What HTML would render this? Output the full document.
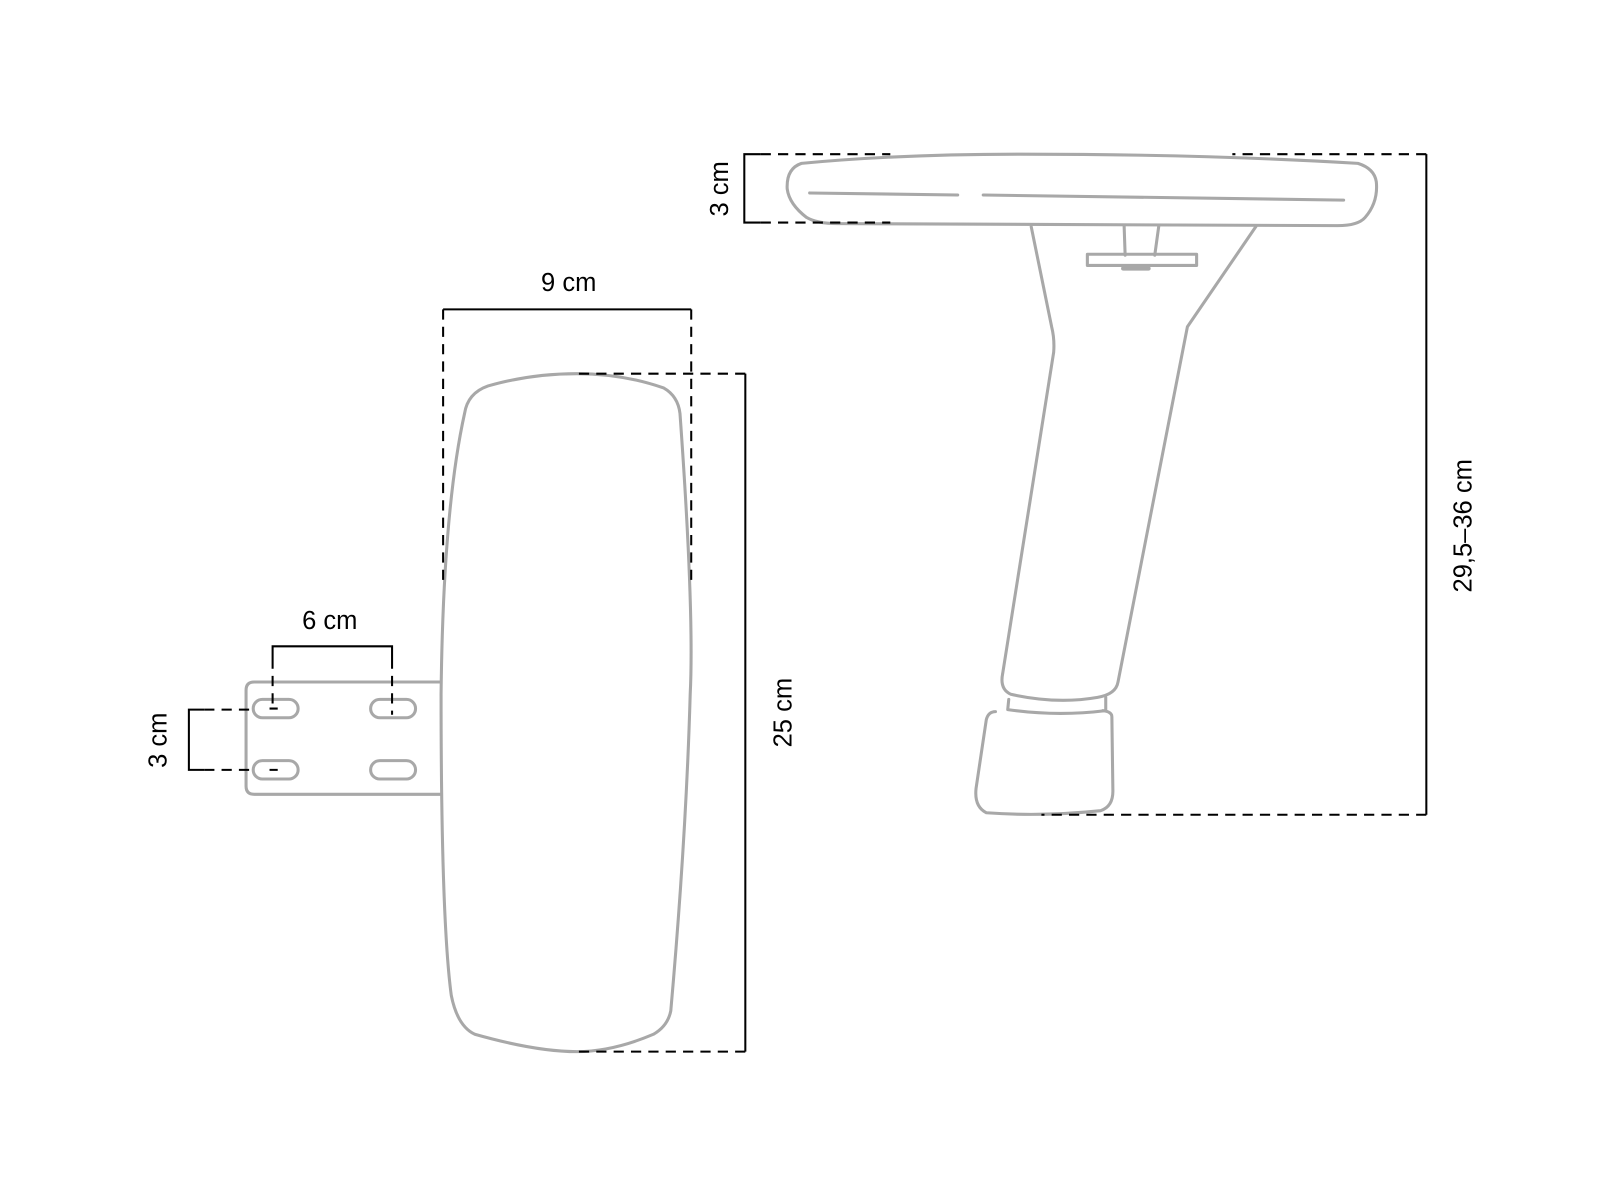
<!DOCTYPE html>
<html><head><meta charset="utf-8"><style>html,body{margin:0;padding:0;background:#fff}svg{display:block}</style></head>
<body>
<svg width="1601" height="1201" viewBox="0 0 1601 1201" xmlns="http://www.w3.org/2000/svg" font-family="Liberation Sans, sans-serif" font-size="25">
<g transform="scale(1.021)">
<g fill="none" stroke="#a8a8a8" stroke-width="3" stroke-linejoin="round" stroke-linecap="round">
<path d="M455,405 Q458,385 478,378 Q520,366 565,366 Q610,366 650,380 Q664,388 666,405 Q680,600 676,680 Q672,820 657,990 Q654,1005 640,1013 Q600,1030 565,1030 Q525,1030 465,1013 Q448,1005 442,975 Q432,900 432,680 Q434,500 455,405 Z"/>
<path d="M431,668 L249,668 Q241,668 241,676 L241,770 Q241,778 249,778 L431,778"/>
<rect x="248" y="685" width="44" height="18" rx="9"/>
<rect x="363" y="685" width="44" height="18" rx="9"/>
<rect x="248" y="745" width="44" height="18" rx="9"/>
<rect x="363" y="745" width="44" height="18" rx="9"/>
<path d="M785,160 Q770,165 771,185 Q773,200 790,213 Q800,219 820,219 L1310,221 Q1330,221 1337,213 Q1350,198 1348,178 Q1346,165 1330,160 Q1180,151 1000,151 Q880,151 785,160 Z"/>
<path d="M793,189 L938,191 M963,191 L1316,196"/>
<path d="M1101,221 L1102,250 M1135,221 L1131,250"/>
<rect x="1065" y="249" width="107" height="11"/>
<path d="M1100,263 L1125,263" stroke-width="4"/>
<path d="M1010,222 L1030,320 Q1033,332 1032,345 L982,660 Q979,675 990,680 Q1035,690 1075,683 Q1093,680 1095,668 L1163,320 L1230,222"/>
<path d="M988,685 L987,695 Q1035,702 1083,696 L1083,683"/>
<path d="M975,697 Q968,697 966,705 L956,772 Q954,790 966,796 Q1020,800 1078,794 Q1090,790 1090,775 L1089,702 Q1089,697 1080,696"/>
</g>
<g stroke="#000" stroke-width="2" fill="none">
<path d="M434,303 L677,303"/>
<path d="M434,303 L434,575 M677,303 L677,575" stroke-dasharray="10,7"/>
<path d="M730,366 L730,1030"/>
<path d="M730,366 L563,366 M730,1030 L563,1030" stroke-dasharray="10,7"/>
<path d="M267,645 L267,633 L384,633 L384,645"/>
<path d="M267,645 L267,693 M384,645 L384,700" stroke-dasharray="10,7"/>
<path d="M264,694 L272,694 M264,754 L272,754"/>
<path d="M200,695 L185,695 L185,754 L200,754"/>
<path d="M200,695 L248,695 M200,754 L248,754" stroke-dasharray="10,7"/>
<path d="M745,151 L729,151 L729,218 L745,218"/>
<path d="M745,151 L872,151 M745,218 L872,218" stroke-dasharray="10,7"/>
<path d="M1397,151 L1397,798"/>
<path d="M1397,151 L1207,151 M1397,798 L1020,798" stroke-dasharray="10,7"/>
</g>
<g fill="#000">
<text x="557" y="285" text-anchor="middle">9 cm</text>
<text x="323" y="616" text-anchor="middle">6 cm</text>
<text transform="translate(775,698) rotate(-90)" text-anchor="middle">25 cm</text>
<text transform="translate(163,725) rotate(-90)" text-anchor="middle">3 cm</text>
<text transform="translate(713,185) rotate(-90)" text-anchor="middle">3 cm</text>
<text transform="translate(1441,515) rotate(-90)" text-anchor="middle">29,5–36 cm</text>
</g>
</g>
</svg>
</body></html>
